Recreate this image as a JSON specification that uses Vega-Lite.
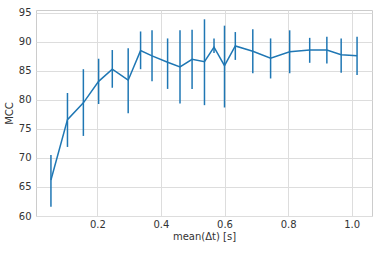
{
  "$schema": "https://vega.github.io/schema/vega-lite/v6.json",
  "width": 336,
  "height": 206,
  "autosize": "none",
  "padding": {"left": 36, "top": 10, "right": 9, "bottom": 38},
  "background": "white",
  "config": {
    "view": {"stroke": "#cccccc", "strokeWidth": 1},
    "axis": {
      "labelFont": "DejaVu Sans",
      "titleFont": "DejaVu Sans",
      "labelFontSize": 10,
      "titleFontSize": 10,
      "titleFontWeight": "normal",
      "labelColor": "#333333",
      "titleColor": "#333333",
      "gridColor": "#dddddd",
      "gridWidth": 1,
      "domain": false,
      "ticks": false,
      "labelPadding": 5
    }
  },
  "data": {
    "values": [
      {"dt": 0.054, "mcc": 66.2, "lo": 61.6, "hi": 70.5},
      {"dt": 0.106, "mcc": 76.6, "lo": 71.9, "hi": 81.2},
      {"dt": 0.156, "mcc": 79.5, "lo": 73.8, "hi": 85.3},
      {"dt": 0.204, "mcc": 83.2, "lo": 79.3, "hi": 87.1},
      {"dt": 0.247, "mcc": 85.3, "lo": 82.1, "hi": 88.6},
      {"dt": 0.297, "mcc": 83.4, "lo": 77.7, "hi": 88.9},
      {"dt": 0.336, "mcc": 88.5, "lo": 85.3, "hi": 91.8},
      {"dt": 0.372, "mcc": 87.6, "lo": 83.2, "hi": 92.0},
      {"dt": 0.421, "mcc": 86.5, "lo": 81.9, "hi": 90.6},
      {"dt": 0.460, "mcc": 85.7, "lo": 79.4, "hi": 92.0},
      {"dt": 0.498, "mcc": 87.0, "lo": 81.9, "hi": 92.1},
      {"dt": 0.537, "mcc": 86.6, "lo": 79.1, "hi": 93.9},
      {"dt": 0.567, "mcc": 89.1, "lo": 88.1, "hi": 90.6},
      {"dt": 0.600, "mcc": 85.9, "lo": 78.7, "hi": 92.8},
      {"dt": 0.634, "mcc": 89.3, "lo": 86.9, "hi": 91.7},
      {"dt": 0.689, "mcc": 88.4, "lo": 84.6, "hi": 92.2},
      {"dt": 0.745, "mcc": 87.2, "lo": 83.7, "hi": 90.6},
      {"dt": 0.805, "mcc": 88.3, "lo": 84.6, "hi": 92.0},
      {"dt": 0.868, "mcc": 88.6, "lo": 86.4, "hi": 90.7},
      {"dt": 0.922, "mcc": 88.6, "lo": 86.3, "hi": 90.9},
      {"dt": 0.967, "mcc": 87.8, "lo": 84.7, "hi": 90.6},
      {"dt": 1.017, "mcc": 87.6, "lo": 84.3, "hi": 90.9}
    ]
  },
  "encoding": {
    "x": {
      "field": "dt",
      "type": "quantitative",
      "scale": {"domain": [0.007, 1.064], "nice": false, "zero": false},
      "axis": {"title": "mean(Δt) [s]", "values": [0.2, 0.4, 0.6, 0.8, 1.0], "format": ".1f", "labelPadding": 3, "titlePadding": 2}
    }
  },
  "layer": [
    {
      "mark": {"type": "rule", "color": "#1f77b4", "strokeWidth": 1.5},
      "encoding": {
        "y": {
          "field": "lo",
          "type": "quantitative",
          "scale": {"domain": [60, 95.5], "nice": false, "zero": false},
          "axis": {"title": "MCC", "values": [60, 65, 70, 75, 80, 85, 90, 95], "titlePadding": 4}
        },
        "y2": {"field": "hi"}
      }
    },
    {
      "mark": {"type": "line", "color": "#1f77b4", "strokeWidth": 1.5},
      "encoding": {
        "y": {
          "field": "mcc",
          "type": "quantitative",
          "scale": {"domain": [60, 95.5], "nice": false, "zero": false},
          "axis": {"title": "MCC", "values": [60, 65, 70, 75, 80, 85, 90, 95], "titlePadding": 4}
        }
      }
    }
  ]
}
